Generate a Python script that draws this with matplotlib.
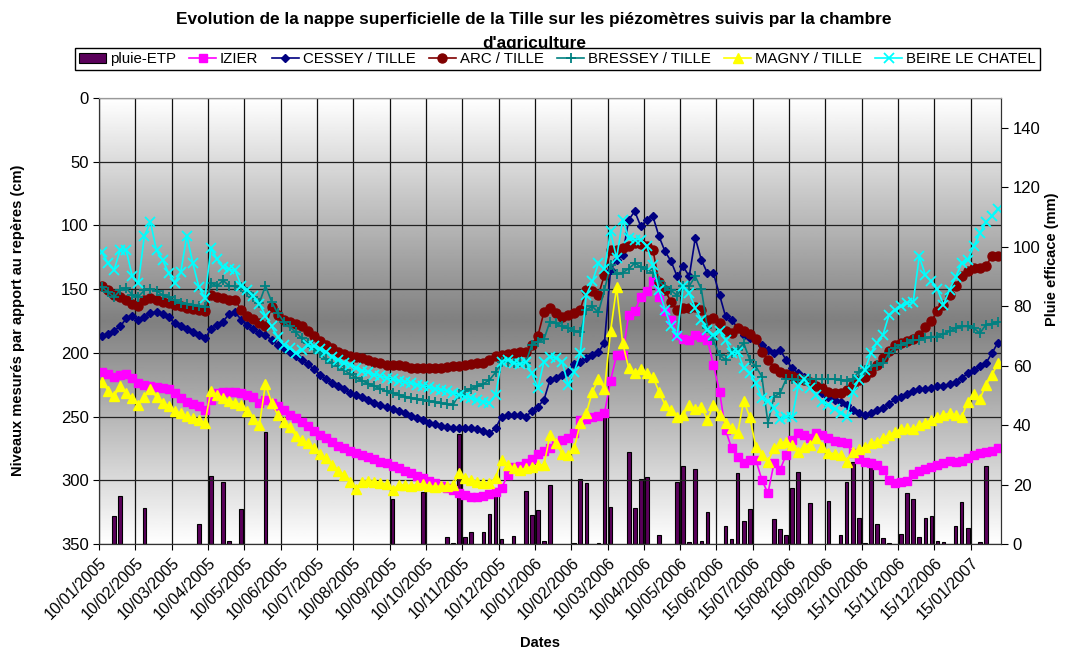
import numpy as np
import matplotlib.pyplot as plt
from matplotlib.lines import Line2D
from matplotlib.patches import Patch

plt.rcParams['font.family'] = ['Liberation Sans', 'DejaVu Sans']

# ---- data ----
tick_labels = ['10/01/2005', '10/02/2005', '10/03/2005', '10/04/2005', '10/05/2005',
               '10/06/2005', '10/07/2005', '10/08/2005', '10/09/2005', '10/10/2005',
               '10/11/2005', '10/12/2005', '10/01/2006', '10/02/2006', '10/03/2006',
               '10/04/2006', '10/05/2006', '15/06/2006', '15/07/2006', '15/08/2006',
               '15/09/2006', '15/10/2006', '15/11/2006', '15/12/2006', '15/01/2007']

# pluie-ETP (mm), right axis
pluie = [0, 0, 9.3, 16, 0, 0, 0, 12, 0, 0,
         0, 0, 0, 0, 0, 0, 6.7, 0, 22.9, 0,
         21, 0.9, 0, 11.7, 0, 0, 0, 37.7, 0, 0,
         0, 0, 0, 0, 0, 0, 0, 0, 0, 0,
         0, 0, 0, 0, 0, 0, 0, 0, 15, 0,
         0, 0, 0, 17.6, 0, 0, 0, 2.3, 0.5, 36.9,
         2.3, 3.9, 0, 4.2, 10.2, 19, 1.7, 0, 2.7, 0,
         17.9, 9.6, 11.3, 1, 20, 0, 0, 0, 0.5, 22,
         20.6, 0, 0.5, 43, 12.3, 0, 0, 31, 12.1, 21.7,
         22.5, 0, 3.1, 0, 0, 20.8, 26.3, 0.8, 25.2, 0.9,
         10.6, 0, 0, 6, 1.6, 23.8, 7.6, 11.7, 0, 0,
         0, 8.4, 5.2, 2.9, 18.8, 24.3, 0, 13.7, 0, 0,
         14.3, 0, 2.9, 21, 27.7, 8.8, 0.5, 28.5, 6.6, 1.9,
         0.4, 0, 3.5, 17.2, 15, 2.3, 8.8, 9.4, 1, 0.6,
         0, 6, 14.1, 5.4, 0, 0.7, 26.3, 0, 0]

# water table levels (cm below reference), left axis
izier = [215.4, 216.5, 219, 217.3, 216.8, 220, 223.8, 225.4, 226, 227,
         227.7, 228.5, 231.7, 235.6, 238.2, 240, 242, 244.8, 236.9, 231.7,
         231, 231, 231, 231.7, 233, 234.3, 239, 236.9, 239, 242,
         244.8, 248.7, 251.3, 254, 257.3, 261, 264.8, 267, 269.6, 272.8,
         274.9, 276.7, 278.3, 280, 282, 283.5, 285.3, 286.6, 288.7, 290.3,
         292.4, 294.5, 296.6, 298.4, 300.5, 302.4, 304.5, 306.3, 308, 310.2,
         311.8, 312.8, 312.8, 312, 310.7, 309, 306.3, 295.8, 289.8, 288.5,
         286.6, 283.5, 279.3, 277, 274.9, 271, 268.3, 267, 263, 252.6,
         252, 250.5, 249.5, 247.4, 222, 201.6, 201.6, 170, 167.5, 155.8,
         151.8, 144, 155.8, 167.5, 174, 185.9, 189.3, 190.3, 185.9, 187.2,
         189.8, 209.4, 230.4, 260.5, 274.9, 281.4, 286.6, 284, 284, 299.7,
         310.2, 286.6, 291.9, 280, 268.3, 263, 264.4, 267, 263, 264.4,
         267, 268.8, 269.6, 271, 278.8, 283.5, 285.3, 286.6, 288, 291.9,
         299.7, 301.8, 301, 300.3, 295, 292.4, 290.8, 289.8, 288, 286.6,
         284.8, 285.3, 284.6, 282.7, 280, 278.8, 277.5, 276.7, 274.9]

cessey = [186.6, 185, 182.5, 179.3, 173, 171, 174, 171.5, 168.8, 167.8,
          169.4, 172, 176.7, 179.3, 181.4, 184, 186.1, 188.7, 181.4, 178,
          175.4, 169.4, 168.3, 174, 178, 181.4, 184.6, 186.1, 189.8, 193.7,
          196.3, 199.7, 202.4, 205.5, 208.9, 212.8, 217, 220.7, 223.3, 226.4,
          228.5, 231.2, 233, 235, 236.9, 239, 240.6, 242.7, 244.2, 245.8,
          247.4, 249.5, 251, 252.6, 254.7, 256, 257.3, 258.1, 258.6, 259.2,
          259.2, 259.2, 260, 261, 263.1, 259.2, 250, 248.7, 248.7, 248.7,
          250, 246, 242.1, 236.9, 221.2, 219.9, 217.3, 215.4, 208.6, 206.8,
          204.2, 201.6, 199.7, 191.9, 135, 127, 123.5, 95.5, 89, 100.8,
          95.5, 92.9, 108.6, 120.4, 128.2, 140, 132.2, 140, 109.9, 127,
          137.4, 137.4, 154.4, 171.4, 174, 180.6, 185.9, 188.5, 189.3, 193.7,
          197.6, 200, 197.6, 205.5, 212, 216, 219, 222.5, 226.4, 231.7,
          234.3, 236.9, 238.2, 240.8, 244.8, 247.4, 248.7, 247.4, 244.8, 243.5,
          240, 236.4, 234.3, 232.2, 229.6, 228.5, 228.5, 227.7, 226.4, 225.9,
          224.3, 222.5, 219.9, 216, 213.4, 210.7, 208.1, 200.3, 191.9]

arc = [147.4, 150.5, 154.5, 156.3, 158.4, 161.5, 163.1, 158.9, 157, 158.4,
       160, 161, 162.3, 163.6, 164.7, 165.7, 166.2, 167, 154.5, 155.8,
       157.3, 158.4, 158.4, 166.7, 171.4, 173.5, 176.6, 179.3, 164, 170,
       174, 176, 177.2, 179.3, 183.2, 187.1, 190.4, 193.7, 195.8, 199,
       200.8, 202.4, 202.9, 204.2, 205.5, 206.8, 208.1, 209.2, 209.4, 209.7,
       210.7, 211.5, 212, 212, 212, 212, 211.5, 211.3, 210.7, 210,
       209.4, 208.9, 208.1, 207.6, 205.5, 202.4, 201.6, 200.8, 200.3, 199.7,
       199, 193.7, 186.6, 168, 164.9, 168.8, 171.5, 170.2, 168.8, 166.2,
       150.5, 151.8, 154.5, 138.7, 119.6, 119.1, 117.8, 116, 113.9, 114.4,
       116.5, 119.1, 144.5, 151, 160, 166.2, 164.9, 164.9, 164, 166,
       174, 173, 176.7, 183.2, 184.6, 180.6, 183.2, 185.1, 189.3, 199,
       205.5, 211.5, 215.4, 216.5, 218, 219.9, 221.2, 222.8, 225.9, 227.7,
       230.4, 231.7, 231.7, 229, 225.1, 221.2, 218.6, 214.7, 209.4, 203.7,
       198.4, 194.2, 192.4, 190.8, 189.3, 185.9, 180.1, 174.9, 167, 162.3,
       154.5, 147.4, 140, 136.1, 133.8, 133.5, 131.7, 124.3, 123.8]

bressey = [148.4, 152.6, 156.3, 150.5, 149.2, 154.5, 155.8, 151, 150, 151.3,
           154.5, 156.3, 158.9, 160.5, 161.5, 162.6, 163.6, 164.4, 145.3, 147.4,
           143.2, 147.4, 147.9, 148.4, 152.6, 156.3, 160.5, 147.4, 159.7, 168.8,
           175.4, 179.3, 184, 188.5, 192.4, 197.1, 200.5, 205, 208.1, 210.7,
           213.4, 216.8, 219.6, 222, 224.1, 226.2, 228.3, 230.1, 231.4, 232.7,
           234.3, 235.3, 236.4, 237.2, 238, 238.7, 239.5, 240.3, 240.8, 232.2,
           229.6, 228, 226.4, 224.3, 221.2, 215.4, 206.8, 206.8, 207.6, 206.8,
           207.6, 193.7, 191.1, 189.3, 175.4, 176.7, 179.3, 180.6, 182.5, 184,
           166.2, 163.6, 168.3, 150.5, 130.9, 138.5, 137, 134, 129.6, 132.5,
           134, 137.5, 143.5, 148.5, 151, 155, 147.6, 147.5, 140, 150,
           180.6, 190.3, 201.6, 205.5, 200.3, 197.6, 192.4, 205.5, 210.7, 218.6,
           255.2, 234.3, 231.7, 220.7, 220.7, 221.2, 221.2, 220.7, 220.7, 220.7,
           220.7, 220.7, 221.2, 221.7, 220.7, 214.7, 213.4, 210.7, 209.4, 208.1,
           200.3, 196.3, 193.7, 191.9, 190.3, 189.8, 188.5, 187.2, 187.2, 185.1,
           183.2, 180.6, 179.3, 179.3, 180.6, 184.6, 178, 177.2, 175.4]

magny = [222.5, 229.6, 233.8, 226.4, 231.2, 235.6, 240.8, 234.3, 228.5, 234.8,
         239, 241.6, 246, 247.4, 249.5, 251.3, 252.6, 254.7, 229.6, 233,
         235.6, 237.4, 239, 240.8, 246, 252, 256.5, 224.3, 239, 248.7,
         254, 258.4, 265.2, 268.3, 271, 274.9, 279.3, 282.7, 287.9, 292.4,
         295.8, 301, 307, 301, 300.3, 301, 301.8, 302.9, 307.6, 303.7,
         303.7, 304.2, 303.4, 302.9, 304.2, 305, 304.5, 304.5, 303.7, 294.5,
         298.4, 299.7, 301, 302.4, 301.8, 298.4, 284, 288, 290.6, 291.9,
         290.6, 289.3, 288, 288, 264.4, 271, 279.3, 280, 274.9, 255.2,
         247.4, 230.4, 220.7, 228.5, 183.2, 148.4, 192.4, 212, 216, 212.8,
         216, 218.6, 230.4, 240.8, 244.8, 250.5, 248.7, 240.8, 244.2, 242.1,
         252.6, 240.8, 248.7, 255.2, 259.2, 263, 237.4, 250.5, 273.6, 280,
         285.3, 275, 271, 269.6, 272.3, 277.5, 273.6, 272.3, 267, 273.6,
         278.3, 279.3, 280, 285.3, 277.5, 275.7, 274, 271, 269.6, 267,
         264.4, 261.8, 260, 259.2, 260, 256.5, 254.7, 252.6, 250.5, 248.7,
         247.4, 248.7, 250.5, 238.2, 232.2, 236.4, 225.1, 217.3, 208.1]

beire = [121.2, 129.6, 134.8, 119.1, 119.6, 140, 145.3, 108.1, 97.5, 119.6,
         127, 137.4, 144.8, 136.9, 108.1, 129.6, 148.4, 157, 117.8, 126.4,
         132.7, 134.3, 135.3, 147.4, 150.5, 155.2, 161.5, 170.9, 179.3, 187.2,
         193.7, 196.3, 200.3, 197.6, 194.2, 195, 197.1, 199, 202.9, 205.5,
         207.6, 209.4, 212, 213.9, 215.4, 217, 218.3, 219.6, 220.7, 221.7,
         222.8, 223.8, 224.9, 225.9, 227, 228, 228.8, 229.8, 231.2, 232.7,
         234.3, 235.6, 236.9, 238.2, 239, 233, 206.8, 205.5, 207.6, 208.9,
         206.8, 216, 227.7, 206.8, 202.9, 204.2, 206.8, 225.1, 214.7, 200.3,
         154.5, 144, 129.6, 134.3, 104.7, 125.7, 95.5, 110, 111.3, 111.3,
         116.5, 130.9, 150.5, 166.2, 179.3, 186.6, 147.9, 153.1, 164.9, 174,
         181.9, 185.9, 183.2, 189.8, 200.3, 199, 212, 216, 223.8, 235.6,
         237.4, 243, 252.1, 250, 250.5, 226.4, 220.7, 227.7, 233, 238.2,
         240.8, 244.2, 246.9, 250.5, 230.4, 221.2, 213.4, 200.3, 191.9, 185.9,
         170.2, 166.2, 163.6, 161, 159.7, 124.3, 138.7, 144, 150, 162.3,
         150.5, 140.6, 129.6, 127, 116.5, 106, 97.6, 92.9, 87.2]

series = [
    (izier, 'IZIER', '#FF00FF', 's', 5.5, 1.0),
    (cessey, 'CESSEY / TILLE', '#000080', 'D', 4.3, 1.0),
    (arc, 'ARC / TILLE', '#800000', 'o', 6.5, 1.0),
    (bressey, 'BRESSEY / TILLE', '#008080', '+', 7.5, 1.3),
    (magny, 'MAGNY / TILLE', '#FFFF00', '^', 6.5, 1.0),
    (beire, 'BEIRE LE CHATEL', '#00FFFF', 'x', 6.5, 1.3),
]

# ---- figure ----
W, H = 1066, 655
fig = plt.figure(figsize=(W / 100, H / 100), dpi=100)
L, R, T, B = 99, 1001, 98, 544
ax = fig.add_axes([L / W, 1 - B / H, (R - L) / W, (B - T) / H])
ax2 = ax.twinx()

n = len(izier)
x = np.arange(n)
xmin, xmax = -0.5, n - 0.5

# background: white -> gray -> white
grad = 1 - 0.5 * (1 - np.abs(np.linspace(-1, 1, 300)))
ax.imshow(grad[:, None], extent=[xmin, xmax, 0, 150], aspect='auto', cmap='gray',
          vmin=0, vmax=1, zorder=0, interpolation='bilinear')

# rain bars (right axis)
bx = [i for i, v in enumerate(pluie) if v > 0]
bv = [pluie[i] for i in bx]
ax.bar(bx, bv, width=0.6, color='#5a005a', edgecolor='black', linewidth=0.8, zorder=2)
ax.set_xlim(xmin, xmax)
ax.set_ylim(0, 150)
ax.set_yticks(range(0, 141, 20))
ax.yaxis.tick_right()
ax.yaxis.set_label_position('right')

# level lines (left axis)
for vals, name, col, mk, ms, mew in series:
    ax2.plot(x, vals, color=col, lw=1.2, marker=mk, ms=ms, mfc=col, mec=col, mew=mew)
ax2.set_ylim(350, 0)
ax2.set_yticks(range(0, 351, 50))
ax2.yaxis.tick_left()
ax2.yaxis.set_label_position('left')
ax2.set_xlim(xmin, xmax)

# grid
bounds = [xmin + 6 * k for k in range(len(tick_labels))]
ax.set_xticks(bounds)
ax.set_xticklabels(tick_labels, rotation=45, ha='right', va='top',
                   rotation_mode='anchor', fontsize=11.5)
ax.grid(axis='x', color='#111111', lw=0.9)
ax2.grid(axis='y', color='#222222', lw=0.9)
ax.tick_params(axis='x', length=4, pad=4)
ax.tick_params(axis='y', length=5, labelsize=12)
ax2.tick_params(axis='y', length=4, labelsize=12)

for a in (ax, ax2):
    for s in ('left', 'right', 'bottom'):
        a.spines[s].set_color('#333333')
    a.spines['top'].set_color('#999999')

# texts
fig.text(534 / W, 1 - 12 / H,
         "Evolution de la nappe superficielle de la Tille sur les piézomètres suivis par la chambre\nd'agriculture",
         ha='center', va='top', fontsize=12.4, fontweight='bold', linespacing=1.75, zorder=1)
fig.text(18 / W, 1 - 320 / H, 'Niveaux mesurés par apport au repères (cm)', rotation=90,
         ha='center', va='center', fontsize=10.5, fontweight='bold')
fig.text(1052 / W, 1 - 259 / H, 'Pluie efficace (mm)', rotation=90,
         ha='center', va='center', fontsize=10.5, fontweight='bold')
fig.text(540 / W, 1 - 643 / H, 'Dates', ha='center', va='center',
         fontsize=10.5, fontweight='bold')

# legend
handles = [Patch(facecolor='#5a005a', edgecolor='black', linewidth=0.8)]
labels = ['pluie-ETP']
for vals, name, col, mk, ms, mew in series:
    handles.append(Line2D([], [], color=col, lw=1.2, marker=mk, ms=ms, mfc=col, mec=col, mew=mew))
    labels.append(name)
leg = fig.legend(handles, labels, loc='center', bbox_to_anchor=(557.5 / W, 1 - 59 / H),
                 ncol=7, frameon=True, fancybox=False, edgecolor='black', framealpha=1,
                 fontsize=10.8, handlelength=1.8, handletextpad=0.25, columnspacing=0.9,
                 borderpad=0.25, borderaxespad=0, numpoints=1)
leg.get_frame().set_linewidth(1.0)
leg.set_zorder(5)

fig.savefig('out.png', dpi=100)
